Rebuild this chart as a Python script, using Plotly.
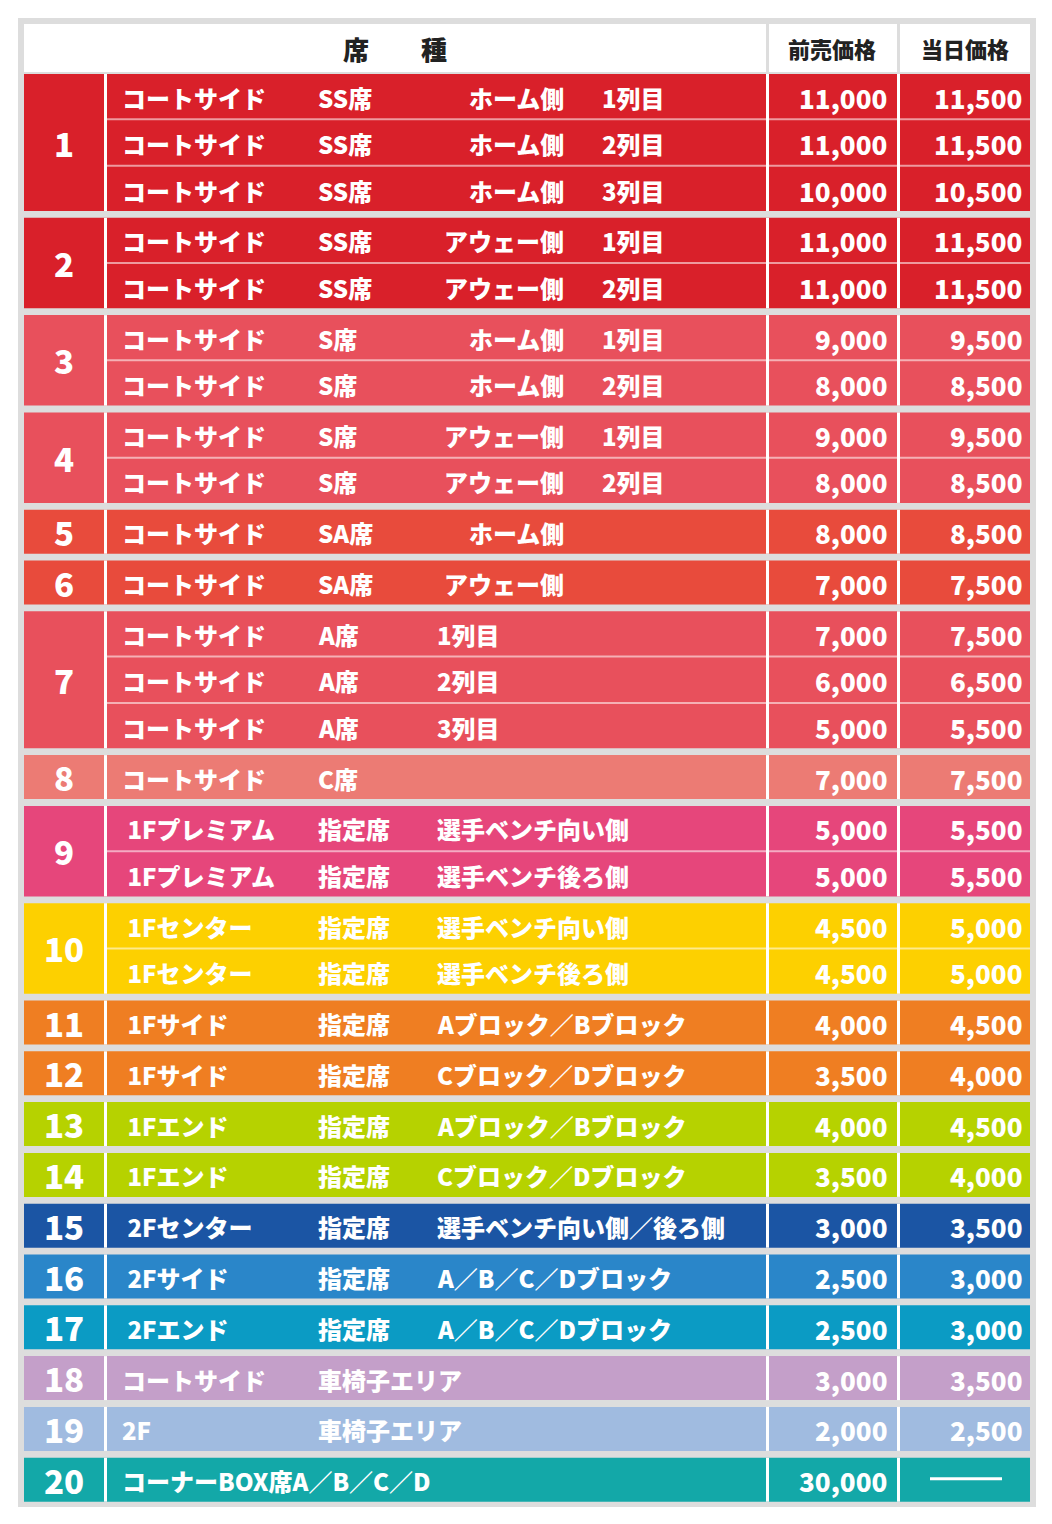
import plotly.graph_objects as go

# 席種データ
group_nums = list(range(1, 21))
group_colors = ["#d9202a", "#d9202a", "#e8505c", "#e8505c", "#e84b3c", "#e84b3c",
                "#e8505c", "#ec7b74", "#e6467b", "#fdd000", "#ef7e22", "#ef7e22",
                "#b6d200", "#b6d200", "#1b55a4", "#2a86c9", "#0b9bc4", "#c49fc9",
                "#a0bbe0", "#13a8a8"]
# 各行: (グループ, 区分, 席, 側/列, 列, 前売, 当日)
rows = [
    (1, "コートサイド", "SS席", "ホーム側", "1列目", "11,000", "11,500"),
    (1, "コートサイド", "SS席", "ホーム側", "2列目", "11,000", "11,500"),
    (1, "コートサイド", "SS席", "ホーム側", "3列目", "10,000", "10,500"),
    (2, "コートサイド", "SS席", "アウェー側", "1列目", "11,000", "11,500"),
    (2, "コートサイド", "SS席", "アウェー側", "2列目", "11,000", "11,500"),
    (3, "コートサイド", "S席", "ホーム側", "1列目", "9,000", "9,500"),
    (3, "コートサイド", "S席", "ホーム側", "2列目", "8,000", "8,500"),
    (4, "コートサイド", "S席", "アウェー側", "1列目", "9,000", "9,500"),
    (4, "コートサイド", "S席", "アウェー側", "2列目", "8,000", "8,500"),
    (5, "コートサイド", "SA席", "ホーム側", "", "8,000", "8,500"),
    (6, "コートサイド", "SA席", "アウェー側", "", "7,000", "7,500"),
    (7, "コートサイド", "A席", "1列目", "", "7,000", "7,500"),
    (7, "コートサイド", "A席", "2列目", "", "6,000", "6,500"),
    (7, "コートサイド", "A席", "3列目", "", "5,000", "5,500"),
    (8, "コートサイド", "C席", "", "", "7,000", "7,500"),
    (9, " 1Fプレミアム", "指定席", "選手ベンチ向い側", "", "5,000", "5,500"),
    (9, " 1Fプレミアム", "指定席", "選手ベンチ後ろ側", "", "5,000", "5,500"),
    (10, " 1Fセンター", "指定席", "選手ベンチ向い側", "", "4,500", "5,000"),
    (10, " 1Fセンター", "指定席", "選手ベンチ後ろ側", "", "4,500", "5,000"),
    (11, " 1Fサイド", "指定席", "Aブロック／Bブロック", "", "4,000", "4,500"),
    (12, " 1Fサイド", "指定席", "Cブロック／Dブロック", "", "3,500", "4,000"),
    (13, " 1Fエンド", "指定席", "Aブロック／Bブロック", "", "4,000", "4,500"),
    (14, " 1Fエンド", "指定席", "Cブロック／Dブロック", "", "3,500", "4,000"),
    (15, " 2Fセンター", "指定席", "選手ベンチ向い側／後ろ側", "", "3,000", "3,500"),
    (16, " 2Fサイド", "指定席", "A／B／C／Dブロック", "", "2,500", "3,000"),
    (17, " 2Fエンド", "指定席", "A／B／C／Dブロック", "", "2,500", "3,000"),
    (18, "コートサイド", "車椅子エリア", "", "", "3,000", "3,500"),
    (19, "2F", "車椅子エリア", "", "", "2,000", "2,500"),
    (20, "コーナーBOX席A／B／C／D", "", "", "", "30,000", "——"),
]
headers = ["席　　種", "前売価格", "当日価格"]

# レイアウト (px, ページ座標)
W, H = 1052, 1524
OFF = 8  # ページ余白の補正
X0, X1 = 24, 1030
XC1, XC2, XC3 = 105.5, 767.5, 898.5
TOP = 74
RH, SEP, GAP = 44, 2.5, 6.8
FONT = "Noto Sans CJK JP"

fig = go.Figure()
shapes, ann = [], []
shapes.append(dict(type="rect", x0=18, x1=1036, y0=18, y1=1507, fillcolor="#dddddd", line_width=0, layer="below"))
shapes.append(dict(type="rect", x0=X0, x1=X1, y0=24, y1=72, fillcolor="white", line_width=0))
for xc in (XC2, XC3):
    shapes.append(dict(type="line", x0=xc, x1=xc, y0=24, y1=72, line=dict(color="#dddddd", width=3)))
for t, xc in zip(headers, [395, 832, 965]):
    ann.append(dict(x=xc, y=48, text=t, showarrow=False, xanchor="center",
                    font=dict(family=FONT, size=26 if t == headers[0] else 22, color="#222", weight=900)))

txt = dict(family=FONT, size=24, color="white", weight=900)
y = TOP
for g, col in zip(group_nums, group_colors):
    grows = [r for r in rows if r[0] == g]
    gh = len(grows) * RH + (len(grows) - 1) * SEP
    shapes.append(dict(type="rect", x0=X0, x1=X1, y0=y, y1=y + gh, fillcolor=col, line_width=0))
    for xc in (XC1, XC2, XC3):
        shapes.append(dict(type="line", x0=xc, x1=xc, y0=y, y1=y + gh, line=dict(color="white", width=3)))
    ann.append(dict(x=64, y=y + gh / 2, text=str(g), showarrow=False, xanchor="center",
                    font=dict(family=FONT, size=33, color="white", weight=900)))
    for k, r in enumerate(grows):
        ry = y + k * (RH + SEP)
        cy = ry + RH / 2 + 1
        if k > 0:
            shapes.append(dict(type="line", x0=XC1, x1=X1, y0=ry - SEP / 2, y1=ry - SEP / 2,
                               line=dict(color="rgba(255,255,255,0.55)", width=2)))
        _, a, b, c, d, pre, day = r
        ann.append(dict(x=120, y=cy, text=a, showarrow=False, xanchor="left", font=txt))
        if b:
            ann.append(dict(x=316, y=cy, text=b, showarrow=False, xanchor="left", font=txt))
        if c:
            if c.endswith("側") and len(c) <= 5:
                ann.append(dict(x=566, y=cy, text=c, showarrow=False, xanchor="right", font=txt))
            else:
                ann.append(dict(x=435, y=cy, text=c, showarrow=False, xanchor="left", font=txt))
        if d:
            ann.append(dict(x=600, y=cy, text=d, showarrow=False, xanchor="left", font=txt))
        ann.append(dict(x=889, y=cy, text=pre, showarrow=False, xanchor="right",
                        font=dict(family=FONT, size=26, color="white", weight=900)))
        if day == "——":
            shapes.append(dict(type="line", x0=930, x1=1002, y0=cy - 2, y1=cy - 2, line=dict(color="white", width=3)))
        else:
            ann.append(dict(x=1024, y=cy, text=day, showarrow=False, xanchor="right",
                            font=dict(family=FONT, size=26, color="white", weight=900)))
    y += gh + GAP

fig.update_layout(width=W, height=H, margin=dict(l=0, r=0, t=0, b=0),
                  paper_bgcolor="white", plot_bgcolor="white",
                  xaxis=dict(range=[OFF, W + OFF], visible=False, fixedrange=True),
                  yaxis=dict(range=[H + OFF, OFF], visible=False, fixedrange=True),
                  shapes=shapes, annotations=ann, showlegend=False)
fig.write_html("out.html")
